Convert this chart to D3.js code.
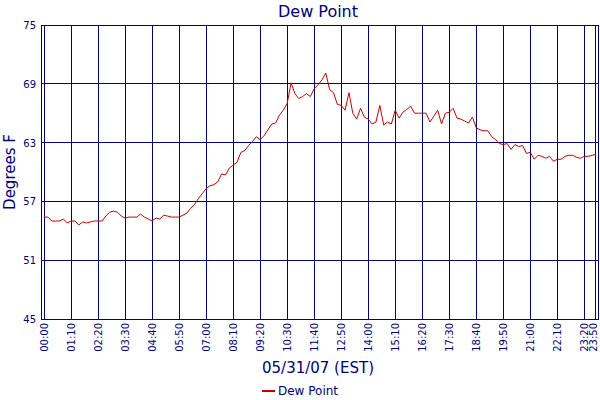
<!DOCTYPE html>
<html><head><meta charset="utf-8">
<script src="https://cdn.jsdelivr.net/npm/d3@7"></script>
<style>body{margin:0;background:#fff}text{font-family:Verdana,"DejaVu Sans",sans-serif}</style>
</head><body>
<svg id="chart" width="600" height="400"></svg>
<script>
// dew point every 10 minutes from 00:00 to 23:50
var dewValues = [
55.4,55.4,55.0,55.0,55.0,55.2,54.8,55.0,55.0,54.6,54.9,54.8,
54.9,55.0,55.0,55.0,55.5,55.9,56.0,55.9,55.5,55.3,55.4,55.4,
55.4,55.7,55.4,55.2,55.0,55.3,55.2,55.6,55.5,55.4,55.4,55.4,
55.6,55.8,56.3,56.7,57.3,57.8,58.3,58.6,58.7,59.0,59.8,59.7,
60.4,60.7,61.0,62.0,62.2,62.7,63.1,63.6,63.3,63.7,64.3,64.9,
65.0,65.8,66.3,67.0,69.1,68.0,67.5,67.7,68.0,67.7,68.5,68.9,
69.4,70.1,68.4,68.1,66.9,66.8,66.3,68.1,66.0,65.4,66.5,65.6,
65.4,64.9,65.1,66.8,64.8,65.1,64.9,66.3,65.5,66.1,66.4,66.7,
66.0,66.0,66.0,66.0,65.1,65.7,66.3,64.9,66.0,66.1,66.5,65.5,
65.4,65.2,65.0,65.6,64.5,64.3,64.2,64.2,63.6,63.3,62.9,62.8,
62.9,62.3,62.8,62.6,62.7,61.9,62.0,61.3,61.7,61.6,61.4,61.6,
61.1,61.3,61.3,61.6,61.7,61.7,61.5,61.4,61.6,61.6,61.7,61.8];
var tickMinutes = [0,70,140,210,280,350,420,490,560,630,700,770,840,910,980,1050,1120,1190,1260,1330,1400,1430];
var yTicks = [45,51,57,63,69,75];

var navy = "#000080";
var svg = d3.select("#chart");
var x = d3.scaleLinear().domain([-8, 1438]).range([41, 599]);
var y = d3.scaleLinear().domain([45, 75]).range([319, 25]);

function fmt(m){ return d3.format("02")(Math.floor(m/60)) + ":" + d3.format("02")(m%60); }

var grid = svg.append("g").attr("stroke", navy).attr("stroke-width", 1).attr("shape-rendering", "crispEdges");
grid.selectAll(".v").data(tickMinutes).join("line")
  .attr("x1", d => x(d)).attr("x2", d => x(d)).attr("y1", 25).attr("y2", 319);
grid.selectAll(".h").data(yTicks).join("line")
  .attr("x1", 41).attr("x2", 599).attr("y1", d => y(d)).attr("y2", d => y(d));
grid.append("rect").attr("x", 41).attr("y", 25).attr("width", 557).attr("height", 294)
  .attr("fill", "none");

svg.append("g").selectAll("text").data(yTicks).join("text")
  .attr("x", 36).attr("y", d => y(d) + 4).attr("text-anchor", "end")
  .attr("font-size", 10).attr("fill", navy).text(d => d);

svg.append("g").selectAll("text").data(tickMinutes).join("text")
  .attr("transform", d => "translate(" + Math.min(x(d) + 4, 597) + ",323) rotate(-90)")
  .attr("text-anchor", "end").attr("font-size", 10).attr("fill", navy).text(fmt);

var line = d3.line().x((d, i) => x(i * 10)).y(d => y(d));
svg.append("path").datum(dewValues).attr("d", line)
  .attr("fill", "none").attr("stroke", "#cc0000").attr("stroke-width", 1);

svg.append("text").attr("x", 318).attr("y", 17).attr("text-anchor", "middle")
  .attr("font-size", 16).attr("fill", navy).text("Dew Point");
svg.append("text").attr("transform", "translate(15,172) rotate(-90)").attr("text-anchor", "middle")
  .attr("font-size", 15).attr("fill", navy).text("Degrees F");
svg.append("text").attr("x", 318).attr("y", 373).attr("text-anchor", "middle")
  .attr("font-size", 15).attr("fill", navy).text("05/31/07 (EST)");
svg.append("line").attr("x1", 262).attr("x2", 275).attr("y1", 391).attr("y2", 391)
  .attr("stroke", "#cc0000").attr("stroke-width", 2);
svg.append("text").attr("x", 278).attr("y", 395).attr("font-size", 12).attr("fill", navy).text("Dew Point");
</script>
</body></html>
